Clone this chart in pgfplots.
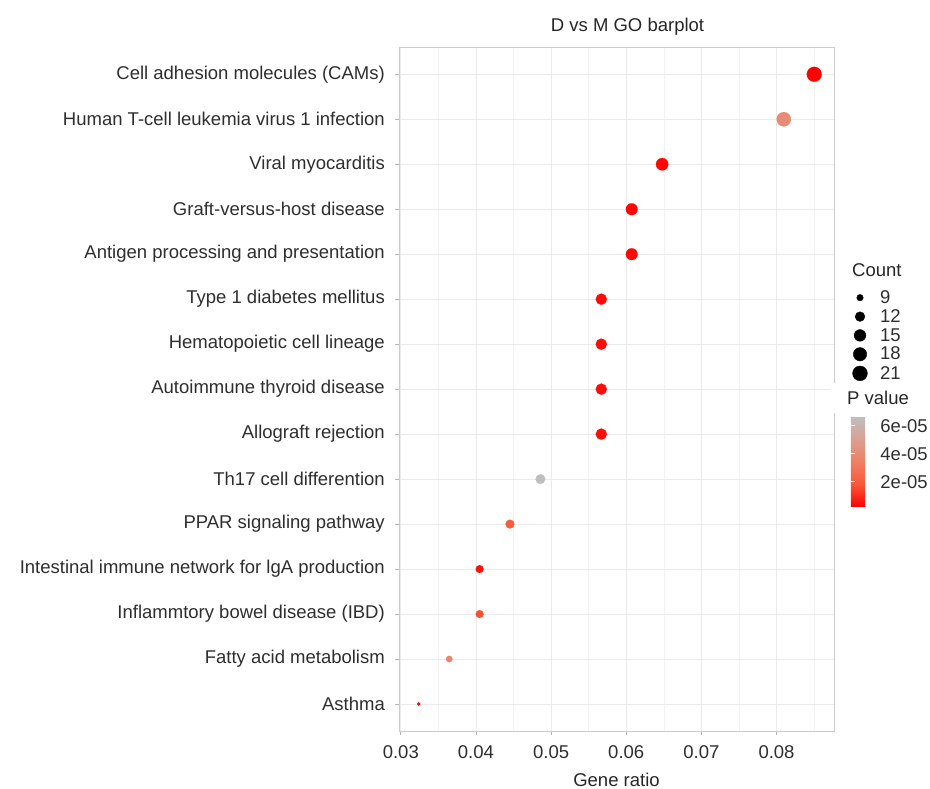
\documentclass[border=0pt]{standalone}
\usepackage{fontspec}
\setmainfont{Liberation Sans}
\usepackage{pgfplots}
\pgfplotsset{compat=1.18}
\usepackage{pgfplotstable}

% y: row (Asthma = 1), x: gene ratio, count, pv: P value in units of 1e-5, r: marker radius (pt)
\pgfplotstableread{
y x count pv r
15 0.08502 21 0.21 7.4
14 0.08097 20 4.07 7.15
13 0.06478 16 0.30 6.15
12 0.06073 15 0.35 5.85
11 0.06073 15 0.35 5.85
10 0.05668 14 0.40 5.55
9 0.05668 14 0.40 5.55
8 0.05668 14 0.45 5.55
7 0.05668 14 0.45 5.55
6 0.04858 12 6.64 4.85
5 0.04453 11 2.00 4.4
4 0.04049 10 0.50 3.9
3 0.04049 10 1.69 3.9
2 0.03644 9 3.75 3.25
1 0.03239 8 0.30 1.65
}\datatable

\newcommand{\fs}{\fontsize{18.5}{22}\selectfont}

\begin{document}
\begin{tikzpicture}
\path[use as bounding box] (0pt,0pt) rectangle (930pt,789pt);
\begin{axis}[
  at={(399pt,58pt)}, anchor=south west,
  scale only axis, width=435pt, height=683.7pt,
  xmin=0.02976, xmax=0.08765,
  ymin=0.4, ymax=15.6,
  scaled x ticks=false,
  xtick={0.03,0.04,0.05,0.06,0.07,0.08},
  xticklabels={0.03,0.04,0.05,0.06,0.07,0.08},
  minor xtick={0.035,0.045,0.055,0.065,0.075,0.085},
  ytick={1,...,15},
  yticklabels={Asthma,Fatty acid metabolism,Inflammtory bowel disease (IBD),Intestinal immune network for lgA production,PPAR signaling pathway,Th17 cell differention,Allograft rejection,Autoimmune thyroid disease,Hematopoietic cell lineage,Type 1 diabetes mellitus,Antigen processing and presentation,Graft-versus-host disease,Viral myocarditis,Human T-cell leukemia virus 1 infection,Cell adhesion molecules (CAMs)},
  xmajorgrids, xminorgrids, ymajorgrids,
  major grid style={color=black!8, line width=0.7pt},
  minor grid style={color=black!5, line width=0.5pt},
  axis line style={color=black!20, line width=0.7pt},
  tick style={color=black!28, line width=0.7pt},
  major tick length=4pt, minor tick length=0pt,
  tick align=outside, tick pos=left,
  xticklabel style={anchor=north, inner sep=0pt, yshift=-10pt},
  yticklabel style={anchor=east, inner sep=0pt, xshift=-10pt},
  ticklabel style={font=\fs, text=black!82},
  every axis title shift=0pt,
  title={D vs M GO barplot},
  title style={at={(axis description cs:0.5253,1.0228)}, anchor=base, font=\fs, text=black!85, inner sep=0pt},
  xlabel={Gene ratio},
  xlabel style={at={(axis description cs:0.5,-0.0819)}, anchor=base, font=\fs, text=black!85, inner sep=0pt},
  colormap={pv}{rgb255=(255,0,0) rgb255=(249,87,56) rgb255=(238,127,100) rgb255=(219,160,144) rgb255=(190,190,190)},
  point meta min=0.21, point meta max=6.64,
  colorbar,
  colorbar style={
    at={(parent axis.north east)},
    anchor=north west,
    xshift=8.4pt, yshift=-369.4pt,
    scale only axis, width=18.6pt, height=90pt,
    ytick={2,4,6}, yticklabels={2e-05,4e-05,6e-05},
    ytick pos=both, yticklabel pos=right,
    tick align=inside, major tick length=3.7pt,
    ytick style={color=white, line width=0.6pt},
    axis line style={draw=none},
    yticklabel style={anchor=west, inner sep=0pt, xshift=10.7pt, font=\fs, text=black!82},
  },
  legend style={at={(1.0428,0.6443)}, anchor=north west, draw=none, fill=none,
    inner sep=0pt, outer sep=0pt, row sep=4.5pt, column sep=12.6pt,
    nodes={inner sep=0pt, text=black!82}, font=\fs},
  legend cell align=left,
]
\addplot[scatter, only marks, mark=*, forget plot,
  point meta=explicit,
  scatter/use mapped color={draw=mapped color, fill=mapped color},
  mark options={line width=0.2pt},
  visualization depends on={\thisrow{r} \as \rad},
  scatter/@pre marker code/.append style={/tikz/mark size=\rad pt},
] table[x=x, y=y, meta=pv] {\datatable};

\addlegendimage{legend image code/.code={\draw[mark=*, black, mark size=3.25pt] plot coordinates {(0pt,0pt)};}}
\addlegendentry{9}
\addlegendimage{legend image code/.code={\draw[mark=*, black, mark size=4.85pt] plot coordinates {(0pt,0pt)};}}
\addlegendentry{12}
\addlegendimage{legend image code/.code={\draw[mark=*, black, mark size=5.85pt] plot coordinates {(0pt,0pt)};}}
\addlegendentry{15}
\addlegendimage{legend image code/.code={\draw[mark=*, black, mark size=6.7pt] plot coordinates {(0pt,0pt)};}}
\addlegendentry{18}
\addlegendimage{legend image code/.code={\draw[mark=*, black, mark size=7.4pt] plot coordinates {(0pt,0pt)};}}
\addlegendentry{21}
\end{axis}
\fill[white] (831pt,376pt) rectangle (838pt,406pt);
\node[anchor=base west, inner sep=0pt, font=\fs, text=black!85] at (852pt,512.3pt) {Count};
\node[anchor=base west, inner sep=0pt, font=\fs, text=black!85] at (847pt,384pt) {P value};
\end{tikzpicture}
\end{document}
